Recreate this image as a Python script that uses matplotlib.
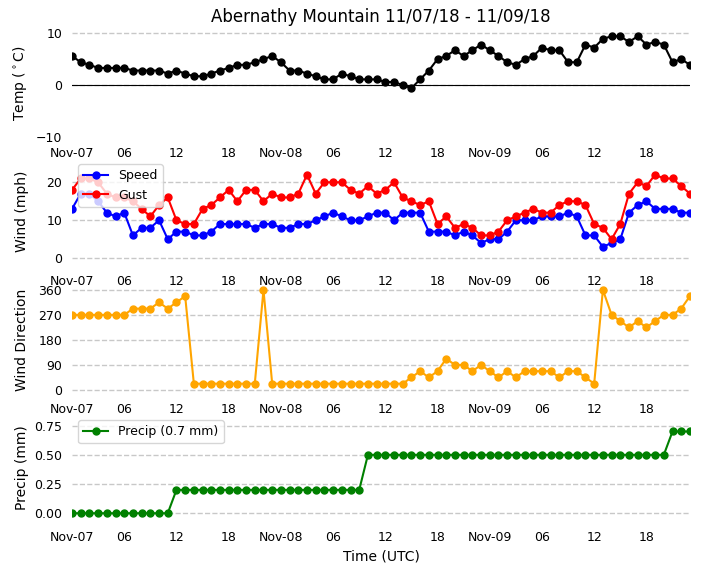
import pandas as pd
import matplotlib
matplotlib.use('Agg')
import matplotlib.pyplot as plt
import matplotlib.dates as mdates

times = pd.date_range('2018-11-07 00:00', periods=72, freq='h')

temp = [5.6, 4.4, 3.9, 3.3, 3.3, 3.3, 3.3, 2.8, 2.8, 2.8, 2.8, 2.2, 2.8, 2.2, 1.7, 1.7, 2.2, 2.8,
        3.3, 3.9, 3.9, 4.4, 5.0, 5.6, 4.4, 2.8, 2.8, 2.2, 1.7, 1.1, 1.1, 2.2, 1.7, 1.1, 1.1, 1.1,
        0.6, 0.6, 0.0, -0.6, 1.1, 2.8, 5.0, 5.6, 6.7, 5.6, 6.7, 7.8, 6.7, 5.6, 4.4, 3.9, 5.0, 5.6,
        7.2, 6.7, 6.7, 4.4, 4.4, 7.8, 7.2, 8.9, 9.4, 9.4, 8.3, 9.4, 7.8, 8.3, 7.8, 4.4, 5.0, 3.9]

speed = [13, 17, 17, 15, 12, 11, 12, 6, 8, 8, 10, 5, 7, 7, 6, 6, 7, 9, 9, 9, 9, 8, 9, 9, 8, 8, 9, 9,
         10, 11, 12, 11, 10, 10, 11, 12,
         12, 10, 12, 12, 12, 7, 7, 7, 6, 7, 6, 4, 5, 5, 7, 10, 10, 10, 11, 11, 11, 12, 11, 6, 6, 3,
         4, 5, 12, 14, 15, 13, 13, 13, 12, 12]

gust = [18, 21, 21, 20, 17, 16, 16, 15, 13, 11, 14, 16, 10, 9, 9, 13, 14, 16, 18, 15, 18, 18, 15, 17,
        16, 16, 17, 22, 17, 20, 20, 20, 18, 17, 19, 17,
        18, 20, 16, 15, 14, 15, 9, 11, 8, 9, 8, 6, 6, 7, 10, 11, 12, 13, 12, 12, 14, 15, 15, 14, 9, 8,
        5, 9, 17, 20, 19, 22, 21, 21, 19, 17]

direction = [270, 270, 270, 270, 270, 270, 270, 292.5, 292.5, 292.5, 315, 292.5, 315, 337.5,
             22.5, 22.5, 22.5, 22.5, 22.5, 22.5, 22.5, 22.5, 360,
             22.5, 22.5, 22.5, 22.5, 22.5, 22.5, 22.5, 22.5, 22.5, 22.5, 22.5, 22.5, 22.5,
             22.5, 22.5, 22.5, 45, 67.5, 45, 67.5, 112.5, 90, 90, 67.5, 90, 67.5, 45, 67.5, 45,
             67.5, 67.5, 67.5, 67.5, 45, 67.5, 67.5, 45, 22.5, 360, 270, 247.5, 225, 247.5, 225,
             247.5, 270, 270, 292.5, 337.5]

precip = [0.0] * 12 + [0.2] * 22 + [0.5] * 35 + [0.7] * 3

fig, axes = plt.subplots(4, 1, figsize=(7.04, 5.73), dpi=100)
fig.subplots_adjust(left=0.1023, right=0.980, top=0.9476, bottom=0.0908, hspace=0.196)
ax_t, ax_w, ax_d, ax_p = axes

ax_t.plot(times, temp, 'o-', color='black', ms=5, lw=1.5)
ax_t.axhline(0, color='black', lw=0.8)
ax_t.set_ylim(-10, 10.6)
ax_t.set_yticks([-10, 0, 10])
ax_t.set_ylabel('Temp ($^\\circ$C)')
ax_t.set_title('Abernathy Mountain 11/07/18 - 11/09/18')

ax_w.plot(times, speed, 'o-', color='blue', ms=5, lw=1.5, label='Speed')
ax_w.plot(times, gust, 'o-', color='red', ms=5, lw=1.5, label='Gust')
ax_w.set_ylim(-1.8, 26.4)
ax_w.set_yticks([0, 10, 20])
ax_w.set_ylabel('Wind (mph)')
ax_w.legend(loc='upper left', fontsize=9)

ax_d.plot(times, direction, 'o-', color='orange', ms=5, lw=1.5)
ax_d.set_ylim(-11, 374)
ax_d.set_yticks([0, 90, 180, 270, 360])
ax_d.set_ylabel('Wind Direction')

ax_p.plot(times, precip, 'o-', color='green', ms=5, lw=1.5, label=f'Precip ({precip[-1]} mm)')
ax_p.set_ylim(-0.066, 0.85)
ax_p.set_yticks([0, 0.25, 0.5, 0.75])
ax_p.set_yticklabels(['0.00', '0.25', '0.50', '0.75'])
ax_p.set_ylabel('Precip (mm)')
ax_p.set_xlabel('Time (UTC)')
ax_p.legend(loc='upper left', fontsize=9)

for ax in axes:
    ax.set_xlim(times[0], times[-1])
    ax.xaxis.set_major_locator(mdates.DayLocator())
    ax.xaxis.set_major_formatter(mdates.DateFormatter('%b-%d'))
    ax.xaxis.set_minor_locator(mdates.HourLocator(byhour=[6, 12, 18]))
    ax.xaxis.set_minor_formatter(mdates.DateFormatter('%H'))
    ax.tick_params(which='both', length=0, pad=7, labelsize=9)
    ax.grid(axis='y', linestyle='--', color='#c8c8c8', lw=1)
    ax.set_axisbelow(True)
    for s in ax.spines.values():
        s.set_visible(False)

# no dashed line at the bottom of the temp panel
ax_t.get_ygridlines()[0].set_visible(False)

fig.align_ylabels(axes)
fig.savefig('out.png', dpi=100)
